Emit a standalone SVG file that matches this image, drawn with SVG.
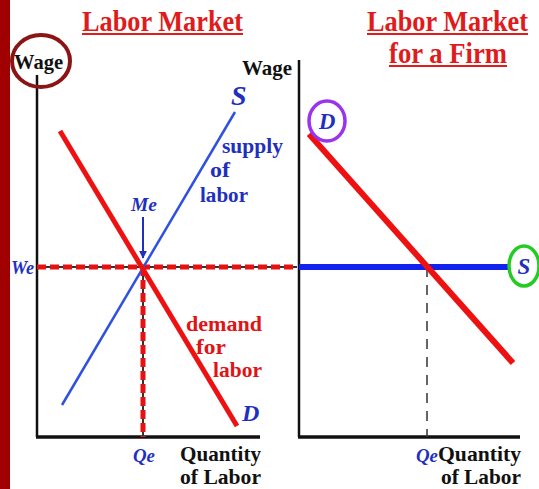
<svg xmlns="http://www.w3.org/2000/svg" width="539" height="489" viewBox="0 0 539 489">
<style>
.t{font-family:"Liberation Serif","Times New Roman",serif;font-weight:bold}
.title{fill:#e01b1b;font-size:29px}
.blk{fill:#111;font-size:21px}
.blue{fill:#1f2fbf;font-size:20px}
.red{fill:#e01414;font-size:20px}
.it{font-style:italic}
.axis{stroke:#111;fill:none}
</style>
<defs>
<marker id="ah" viewBox="0 0 10 10" refX="9" refY="5" markerWidth="4" markerHeight="4" orient="auto">
<path d="M0,0 L10,5 L0,10 z" fill="#1f2fbf"/>
</marker>
</defs>
<rect x="0" y="0" width="539" height="489" fill="#fff"/>
<rect id="bar" x="0" y="0" width="10" height="489" fill="#a00000"/>

<g id="titles">
<text class="t title" x="82" y="31" textLength="161" lengthAdjust="spacingAndGlyphs">Labor Market</text>
<line x1="82" y1="34" x2="243" y2="34" stroke="#e01b1b" stroke-width="2"/>
<text class="t title" x="367" y="31" textLength="161" lengthAdjust="spacingAndGlyphs">Labor Market</text>
<line x1="367" y1="34" x2="528" y2="34" stroke="#e01b1b" stroke-width="2"/>
<text class="t title" x="389" y="63" textLength="118" lengthAdjust="spacingAndGlyphs">for a Firm</text>
<line x1="389" y1="66" x2="507" y2="66" stroke="#e01b1b" stroke-width="2"/>
</g>

<g id="axes-left">
<line class="axis" x1="37" y1="75" x2="37" y2="437" stroke-width="2.5"/>
<line class="axis" x1="36" y1="437" x2="260" y2="437" stroke-width="3.5"/>
<ellipse cx="41" cy="61" rx="29" ry="26" fill="none" stroke="#8b1414" stroke-width="4"/>
<text class="t blk" x="14" y="69" textLength="49" lengthAdjust="spacingAndGlyphs">Wage</text>
<text class="t blk" x="180" y="461" textLength="81" lengthAdjust="spacingAndGlyphs">Quantity</text>
<text class="t blk" x="180" y="484" textLength="81" lengthAdjust="spacingAndGlyphs">of Labor</text>
</g>

<g id="axes-right">
<line class="axis" x1="299" y1="60" x2="299" y2="437" stroke-width="2.5"/>
<line class="axis" x1="298" y1="437" x2="520" y2="437" stroke-width="3.5"/>
<text class="t blk" x="242" y="75" textLength="50" lengthAdjust="spacingAndGlyphs">Wage</text>
<text class="t blk" x="438" y="461" textLength="83" lengthAdjust="spacingAndGlyphs">Quantity</text>
<text class="t blk" x="441" y="484" textLength="80" lengthAdjust="spacingAndGlyphs">of Labor</text>
</g>

<g id="connectors">
<line x1="37" y1="267" x2="297" y2="267" stroke="#333" stroke-width="2"/>
<line x1="37" y1="267" x2="297" y2="267" stroke="#e81010" stroke-width="5" stroke-dasharray="9,4"/>
<line x1="143" y1="267" x2="143" y2="437" stroke="#333" stroke-width="2"/>
<line x1="143" y1="267" x2="143" y2="437" stroke="#e81010" stroke-width="5" stroke-dasharray="9,4"/>
<line x1="62" y1="405" x2="235" y2="112" stroke="#3050e0" stroke-width="2.5"/>
<line x1="60" y1="131" x2="237" y2="426" stroke="#ee1111" stroke-width="5"/>
<line x1="143" y1="217" x2="143" y2="258" stroke="#1f2fbf" stroke-width="2" marker-end="url(#ah)"/>
<line x1="427" y1="267" x2="427" y2="437" stroke="#333" stroke-width="1.5" stroke-dasharray="10,8"/>
<line x1="299" y1="267" x2="510" y2="267" stroke="#1122ee" stroke-width="6"/>
<line x1="309" y1="134" x2="513" y2="363" stroke="#ee1111" stroke-width="6"/>
</g>

<g id="labels-left">
<text class="t blue it" x="231" y="105" style="font-size:28px">S</text>
<text class="t blue" x="222" y="153" textLength="61" lengthAdjust="spacingAndGlyphs">supply</text>
<text class="t blue" x="210" y="177" textLength="20" lengthAdjust="spacingAndGlyphs">of</text>
<text class="t blue" x="200" y="202" textLength="48" lengthAdjust="spacingAndGlyphs">labor</text>
<text class="t blue it" x="131" y="211" style="font-size:19px" textLength="26" lengthAdjust="spacingAndGlyphs">Me</text>
<text class="t blue it" x="11" y="274" style="font-size:19px" textLength="23" lengthAdjust="spacingAndGlyphs">We</text>
<text class="t red" x="186" y="331" textLength="76" lengthAdjust="spacingAndGlyphs">demand</text>
<text class="t red" x="196" y="354" textLength="30" lengthAdjust="spacingAndGlyphs">for</text>
<text class="t red" x="213" y="377" textLength="49" lengthAdjust="spacingAndGlyphs">labor</text>
<text class="t blue it" x="242" y="421" style="font-size:24px">D</text>
<text class="t blue it" x="133" y="462" style="font-size:19px" textLength="22" lengthAdjust="spacingAndGlyphs">Qe</text>
</g>

<g id="labels-right">
<ellipse cx="327" cy="121" rx="18" ry="20" fill="#fff" stroke="#9933ee" stroke-width="3.5"/>
<text class="t blue it" x="327" y="129" text-anchor="middle" style="font-size:23px">D</text>
<ellipse cx="524" cy="266" rx="15" ry="20" fill="#fff" stroke="#22cc22" stroke-width="3.5"/>
<text class="t blue it" x="524" y="274" text-anchor="middle" style="font-size:23px">S</text>
<text class="t blue it" x="416" y="462" style="font-size:19px" textLength="22" lengthAdjust="spacingAndGlyphs">Qe</text>
</g>
</svg>
